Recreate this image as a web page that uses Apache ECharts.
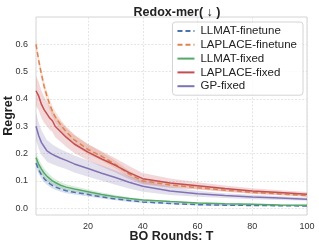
<!DOCTYPE html>
<html><head><meta charset="utf-8">
<script src="https://cdn.jsdelivr.net/npm/echarts@6/dist/echarts.min.js"></script>
<style>html,body{margin:0;padding:0;background:#fff}#c{width:319px;height:248px}</style>
</head><body><div id="c"></div>
<script>
const rounds = [1,2,3,4,5,6,7,8,10,12,15,20,25,30,35,40,50,60,70,80,90,100];
const xTicks = [20,40,60,80,100];
const yTicks = [0,0.1,0.2,0.3,0.4,0.5,0.6];

const llmatFinetune = [0.165,0.14,0.122,0.108,0.098,0.09,0.083,0.078,0.07,0.064,0.058,0.05,0.041,0.034,0.028,0.023,0.017,0.013,0.011,0.01,0.009,0.008];
const llmatFinetuneStd = [0.015,0.015,0.014,0.013,0.012,0.012,0.011,0.011,0.01,0.009,0.008,0.007,0.006,0.005,0.005,0.004,0.003,0.003,0.003,0.002,0.002,0.002];
const laplaceFinetune = [0.60,0.54,0.49,0.445,0.41,0.38,0.355,0.335,0.305,0.28,0.25,0.215,0.19,0.16,0.125,0.1,0.085,0.075,0.066,0.058,0.052,0.046];
const laplaceFinetuneStd = [0.02,0.02,0.02,0.02,0.02,0.02,0.02,0.02,0.02,0.02,0.02,0.018,0.016,0.014,0.012,0.01,0.008,0.007,0.006,0.005,0.005,0.004];
const llmatFixed = [0.185,0.16,0.143,0.128,0.117,0.108,0.1,0.094,0.084,0.077,0.07,0.06,0.05,0.042,0.035,0.03,0.024,0.019,0.016,0.014,0.012,0.011];
const llmatFixedStd = [0.02,0.02,0.018,0.017,0.016,0.015,0.014,0.013,0.012,0.011,0.01,0.008,0.007,0.006,0.005,0.004,0.003,0.003,0.003,0.002,0.002,0.002];
const laplaceFixed = [0.43,0.41,0.38,0.36,0.345,0.33,0.32,0.30,0.28,0.26,0.235,0.205,0.18,0.157,0.13,0.108,0.092,0.082,0.072,0.063,0.057,0.051];
const laplaceFixedStd = [0.055,0.052,0.05,0.048,0.045,0.043,0.041,0.04,0.037,0.035,0.033,0.03,0.028,0.026,0.024,0.021,0.017,0.013,0.011,0.01,0.009,0.008];
const gpFixed = [0.30,0.265,0.24,0.225,0.21,0.203,0.197,0.192,0.183,0.175,0.162,0.145,0.128,0.112,0.095,0.08,0.063,0.053,0.046,0.041,0.037,0.033];
const gpFixedStd = [0.05,0.048,0.045,0.042,0.04,0.038,0.036,0.035,0.033,0.032,0.031,0.03,0.028,0.026,0.023,0.02,0.015,0.011,0.009,0.008,0.007,0.006];

const seriesDefs = [
  {name:'LLMAT-finetune', mean:llmatFinetune, std:llmatFinetuneStd, color:'#4c72b0', dash:true},
  {name:'LAPLACE-finetune', mean:laplaceFinetune, std:laplaceFinetuneStd, color:'#dd8452', dash:true},
  {name:'LLMAT-fixed', mean:llmatFixed, std:llmatFixedStd, color:'#55a868', dash:false},
  {name:'LAPLACE-fixed', mean:laplaceFixed, std:laplaceFixedStd, color:'#c44e52', dash:false},
  {name:'GP-fixed', mean:gpFixed, std:gpFixedStd, color:'#8172b3', dash:false}
];

const series = [];
seriesDefs.forEach(d => {
  const data = rounds.map((x,i)=>[x, d.mean[i]-d.std[i], d.mean[i]+d.std[i]]);
  series.push({
    type:'custom', name:'band-'+d.name, silent:true, z:1,
    data: data, encode:{x:0, y:[1,2]},
    renderItem: function(params, api){
      if (params.dataIndex !== 0) return null;
      const up = [], lo = [];
      for (let i=0;i<data.length;i++){
        up.push(api.coord([data[i][0], data[i][2]]));
        lo.push(api.coord([data[i][0], data[i][1]]));
      }
      return {type:'polygon', shape:{points: up.concat(lo.reverse())}, style:{fill:d.color, opacity:0.22}};
    }
  });
});
seriesDefs.forEach(d => {
  series.push({
    type:'line', name:d.name, z:3, symbol:'none', smooth:false,
    data: rounds.map((x,i)=>[x, d.mean[i]]),
    lineStyle:{color:d.color, width:1.5, type: d.dash ? [5,3] : 'solid'},
    itemStyle:{color:d.color}
  });
});

const chart = echarts.init(document.getElementById('c'), null, {renderer:'canvas'});
chart.setOption({
  animation:false,
  backgroundColor:'#fff',
  title:{text:'Redox-mer( ↓ )', left:172, textAlign:'center', top:1,
    textStyle:{fontFamily:'Liberation Sans', fontSize:12.5, fontWeight:'bold', color:'#222'}},
  grid:{left:36, right:12, top:17, bottom:33, show:true, borderColor:'#d4d4d4', borderWidth:1, backgroundColor:'#fff',
    containLabel:false, outerBoundsMode:'none'},
  legend:{
    data: seriesDefs.map(d=>d.name), orient:'vertical', right:16, top:22,
    itemWidth:17, itemHeight:8, itemGap:1.8, padding:[3,6,3,4],
    itemStyle:{opacity:0},
    borderColor:'#d4d4d4', borderWidth:1, borderRadius:3, backgroundColor:'rgba(255,255,255,0.85)',
    textStyle:{fontFamily:'Liberation Sans', fontSize:11.5, color:'#222', padding:[0,0,0,1]}
  },
  xAxis:{type:'value', min:1, max:100,
    name:'BO Rounds: T', nameLocation:'middle', nameGap:15, nameMoveOverlap:false,
    nameTextStyle:{fontFamily:'Liberation Sans', fontSize:12.5, fontWeight:'bold', color:'#222'},
    axisLine:{show:false},
    axisTick:{show:false, customValues:xTicks},
    axisLabel:{customValues:xTicks, fontFamily:'Liberation Sans', fontSize:9, color:'#333', margin:7},
    splitLine:{show:true, lineStyle:{color:'#dedede', type:[2,1.5], width:0.8}}
  },
  yAxis:{type:'value', min:-0.025, max:0.70,
    name:'Regret', nameLocation:'middle', nameGap:21, nameMoveOverlap:false,
    nameTextStyle:{fontFamily:'Liberation Sans', fontSize:12.5, fontWeight:'bold', color:'#222'},
    axisLine:{show:false},
    axisTick:{show:false, customValues:yTicks},
    axisLabel:{customValues:yTicks, formatter:v=>v.toFixed(1), fontFamily:'Liberation Sans', fontSize:9, color:'#333', margin:8},
    splitLine:{show:true, lineStyle:{color:'#dedede', type:[2,1.5], width:0.8}}
  },
  series: series
});
</script></body></html>
